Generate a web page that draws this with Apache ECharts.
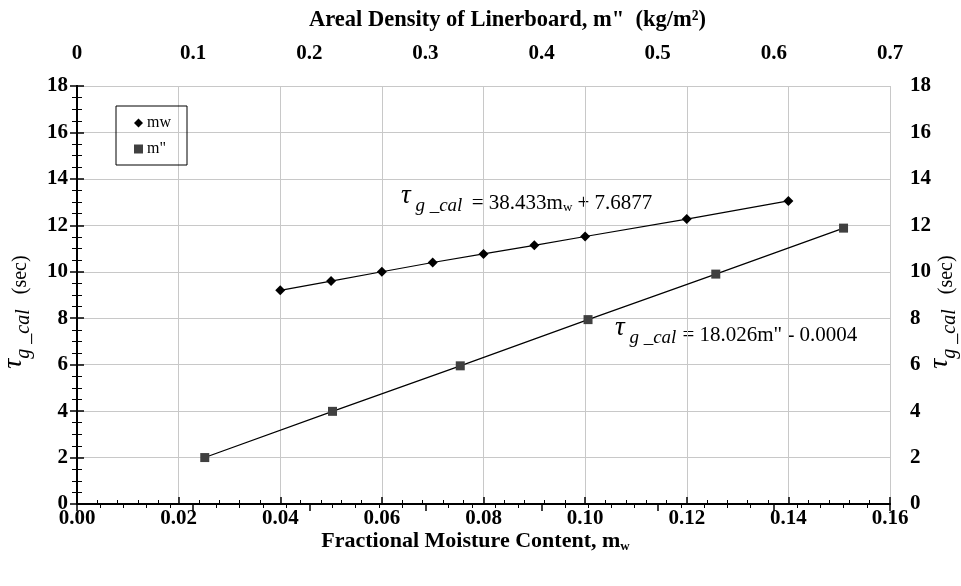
<!DOCTYPE html>
<html>
<head>
<meta charset="utf-8">
<script src="https://cdn.jsdelivr.net/npm/echarts@6/dist/echarts.min.js"></script>
<style>
  html, body { margin: 0; padding: 0; background: #fff; }
  #chart { width: 961px; height: 586px; }
</style>
</head>
<body>
<div id="chart"></div>
<script>
// moisture content (bottom axis) vs tau
const mwX = [0.04, 0.05, 0.06, 0.07, 0.08, 0.09, 0.10, 0.12, 0.14];
const mwY = [9.2, 9.6, 10.0, 10.4, 10.77, 11.14, 11.52, 12.27, 13.05];
// areal density (top axis) vs tau
const mdX = [0.11, 0.22, 0.33, 0.44, 0.55, 0.66];
const mdY = [2.0, 3.99, 5.95, 7.94, 9.9, 11.88];

const SERIF = '"Liberation Serif", "DejaVu Serif", serif';

const chart = echarts.init(document.getElementById('chart'));

const tickLabel = { fontFamily: SERIF, fontWeight: 'bold', fontSize: 21, color: '#000' };
const axLine = { show: true, lineStyle: { color: '#000', width: 2 } };
const majorTick = { show: true, inside: true, length: 7, lineStyle: { color: '#000', width: 1.5 } };

// y axis name: tau with subscript g_cal, then (sec)
const yName = '{tau|τ}{g|g _cal}     {sec|(sec)}';
const yNameStyle = {
  fontFamily: SERIF, color: '#000',
  padding: [0, 34, 0, 0],
  rich: {
    tau: { fontFamily: SERIF, fontSize: 28, fontStyle: 'italic', color: '#000', lineHeight: 28, padding: [0, 0, 14, 0], verticalAlign: 'middle' },
    g: { fontFamily: SERIF, fontSize: 20, fontStyle: 'italic', color: '#000', lineHeight: 20, padding: [6, 0, 0, 0], verticalAlign: 'middle' },
    sec: { fontFamily: SERIF, fontSize: 20, color: '#000', verticalAlign: 'middle' }
  }
};

const eqRich = {
  tau: { fontFamily: SERIF, fontSize: 27, fontStyle: 'italic', fill: '#000', lineHeight: 27, padding: [0, 0, 16, 0], verticalAlign: 'middle' },
  g: { fontFamily: SERIF, fontSize: 19, fontStyle: 'italic', fill: '#000', lineHeight: 19, padding: [4, 6, 0, 0], verticalAlign: 'middle' },
  eq: { fontFamily: SERIF, fontSize: 21, fill: '#000', lineHeight: 21, verticalAlign: 'middle' },
  sub: { fontFamily: SERIF, fontSize: 13, fill: '#000', lineHeight: 13, padding: [9, 0, 0, 0], verticalAlign: 'middle' }
};

const option = {
  animation: false,
  backgroundColor: '#fff',
  grid: { left: 77, right: 71, top: 86, bottom: 82, containLabel: false, outerBoundsMode: 'none' },
  legend: {
    left: 116, top: 106,
    orient: 'vertical',
    borderColor: '#000', borderWidth: 1,
    padding: [9, 16, 8, 18],
    itemGap: 10, itemWidth: 9, itemHeight: 9,
    textStyle: { fontFamily: SERIF, fontSize: 16, color: '#000', padding: [0, 0, 0, -1] },
    data: [
      { name: 'mw', icon: 'diamond' },
      { name: 'm"', icon: 'rect' }
    ]
  },
  xAxis: [
    {
      type: 'value', position: 'bottom',
      min: 0, max: 0.16, interval: 0.02,
      name: '{b|Fractional Moisture Content, m}{s|w}',
      nameLocation: 'middle', nameGap: 26, nameMoveOverlap: false,
      nameTextStyle: {
        padding: [0, 16, 0, 0],
        rich: {
          b: { fontFamily: SERIF, fontWeight: 'bold', fontSize: 22, color: '#000', verticalAlign: 'middle' },
          s: { fontFamily: SERIF, fontWeight: 'bold', fontSize: 13, color: '#000', verticalAlign: 'middle', padding: [10, 0, 0, 0] }
        }
      },
      axisLine: axLine,
      axisTick: majorTick,
      minorTick: { show: true, splitNumber: 5, length: 4, lineStyle: { color: '#000', width: 1 } },
      axisLabel: Object.assign({ margin: 4, formatter: v => v.toFixed(2) }, tickLabel),
      splitLine: { show: true, lineStyle: { color: '#c8c8c8', width: 1 } }
    },
    {
      type: 'value', position: 'top',
      min: 0, max: 0.7, interval: 0.1,
      name: 'Areal Density of Linerboard, m"  (kg/m²)',
      nameLocation: 'middle', nameGap: 54, nameMoveOverlap: false,
      nameTextStyle: { fontFamily: SERIF, fontWeight: 'bold', fontSize: 22.5, color: '#000', padding: [0, 0, 0, 48] },
      axisLine: axLine,
      axisTick: majorTick,
      minorTick: { show: true, splitNumber: 5, length: 4, lineStyle: { color: '#000', width: 1 } },
      axisLabel: Object.assign({ margin: 22 }, tickLabel),
      splitLine: { show: false }
    }
  ],
  yAxis: [
    {
      type: 'value', position: 'left',
      min: 0, max: 18, interval: 2,
      name: yName, nameLocation: 'middle', nameRotate: 90, nameGap: 42, nameMoveOverlap: false,
      nameTextStyle: yNameStyle,
      axisLine: axLine,
      axisTick: majorTick,
      minorTick: { show: true, splitNumber: 4, length: 5, lineStyle: { color: '#000', width: 1 } },
      axisLabel: Object.assign({ margin: 9 }, tickLabel),
      splitLine: { show: true, lineStyle: { color: '#c8c8c8', width: 1 } }
    },
    {
      type: 'value', position: 'right',
      min: 0, max: 18, interval: 2,
      name: yName, nameLocation: 'middle', nameRotate: 90, nameGap: 43, nameMoveOverlap: false,
      nameTextStyle: yNameStyle,
      axisLine: axLine,
      axisTick: majorTick,
      minorTick: { show: true, splitNumber: 4, length: 5, lineStyle: { color: '#000', width: 1 } },
      axisLabel: Object.assign({ margin: 20 }, tickLabel),
      splitLine: { show: false }
    }
  ],
  series: [
    {
      name: 'mw', type: 'line',
      xAxisIndex: 0, yAxisIndex: 0,
      data: mwX.map((x, i) => [x, mwY[i]]),
      symbol: 'diamond', symbolSize: 10,
      itemStyle: { color: '#000' },
      lineStyle: { color: '#000', width: 1.2 }
    },
    {
      name: 'm"', type: 'line',
      xAxisIndex: 1, yAxisIndex: 0,
      data: mdX.map((x, i) => [x, mdY[i]]),
      symbol: 'rect', symbolSize: 9,
      itemStyle: { color: '#404040' },
      lineStyle: { color: '#000', width: 1.2 }
    }
  ],
  graphic: [
    {
      type: 'text', left: 401, top: 182,
      style: { text: '{tau|τ}{g| g _cal} {eq|= 38.433m}{sub|w}{eq| + 7.6877}', rich: eqRich }
    },
    {
      type: 'text', left: 615, top: 314,
      style: { text: '{tau|τ}{g| g _cal}{eq|= 18.026m" - 0.0004}', rich: eqRich }
    }
  ]
};

chart.setOption(option);
window.addEventListener('resize', () => chart.resize());
</script>
</body>
</html>
